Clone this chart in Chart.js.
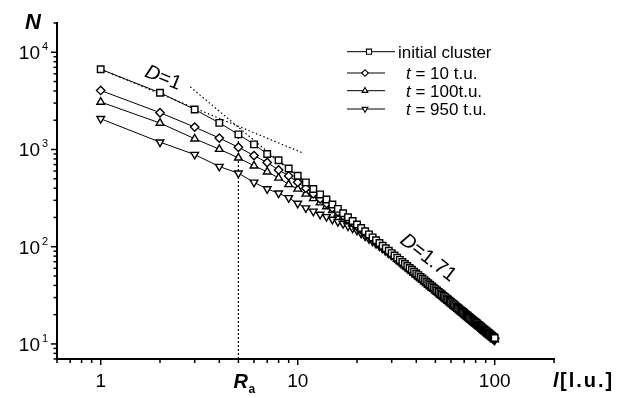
<!DOCTYPE html>
<html>
<head>
<meta charset="utf-8">
<script src="https://cdn.jsdelivr.net/npm/chart.js@4.4.1/dist/chart.umd.min.js"></script>
<style>
  body { margin: 0; background: #fff; }
  canvas { display: block; }
</style>
</head>
<body>
<canvas id="chart" width="633" height="398"></canvas>
<script>
// cluster size l [l.u.]
const lValues = [1, 2, 3, 4, 5, 6, 7, 8, 9, 10, 11, 12, 13, 14, 15, 16, 17, 18, 19, 20,
  21, 22, 23, 24, 25, 26, 27, 28, 29, 30, 31, 32, 33, 34, 35, 36, 37, 38, 39, 40,
  41, 42, 43, 44, 45, 46, 47, 48, 49, 50, 51, 52, 53, 54, 55, 56, 57, 58, 59, 60,
  61, 62, 63, 64, 65, 66, 67, 68, 69, 70, 71, 72, 73, 74, 75, 76, 77, 78, 79, 80,
  81, 82, 83, 84, 85, 86, 87, 88, 89, 90, 91, 92, 93, 94, 95, 96, 97, 98, 99, 100];

// N(l) for each series
const initialCluster = [6680, 3840, 2580, 1880, 1430, 1130, 900, 775, 638, 537, 459, 392, 345, 306, 272, 245, 221, 201, 184, 169,
  155.8, 144.2, 133.9, 124.7, 116.5, 109.1, 102.4, 96.4, 90.9, 85.9, 81.3, 77.1, 73.2, 69.7, 66.4, 63.4, 60.5, 57.9, 55.4, 53.1,
  51.0, 49.0, 47.1, 45.3, 43.6, 42.1, 40.6, 39.2, 37.9, 36.6, 35.4, 34.3, 33.2, 32.2, 31.2, 30.3, 29.4, 28.6, 27.8, 27.0,
  26.3, 25.6, 24.9, 24.2, 23.6, 23.0, 22.4, 21.9, 21.4, 20.9, 20.4, 19.9, 19.5, 19.0, 18.6, 18.2, 17.8, 17.4, 17.0, 16.7,
  16.4, 16.0, 15.7, 15.4, 15.1, 14.8, 14.5, 14.2, 14.0, 13.7, 13.5, 13.2, 13.0, 12.8, 12.5, 12.3, 12.1, 11.9, 11.7, 11.5];
const t10 = [4050, 2390, 1700, 1310, 1056, 865, 735, 615, 535, 460, 400, 350, 311, 278, 250, 228, 208, 191, 176, 162,
  150, 140, 131, 122, 114.8, 107.5, 100.9, 95.0, 89.5, 84.6, 80.1, 75.9, 72.1, 68.7, 65.4, 62.4, 59.6, 57.0, 54.6, 52.3,
  50.2, 48.3, 46.4, 44.6, 42.9, 41.5, 40.0, 38.6, 37.3, 36.1, 34.9, 33.8, 32.7, 31.7, 30.7, 29.8, 29.0, 28.2, 27.4, 26.6,
  25.9, 25.2, 24.5, 23.8, 23.2, 22.7, 22.1, 21.6, 21.1, 20.6, 20.1, 19.6, 19.2, 18.7, 18.3, 17.9, 17.5, 17.1, 16.7, 16.4,
  16.2, 15.8, 15.5, 15.2, 14.9, 14.6, 14.3, 14.0, 13.8, 13.5, 13.3, 13.0, 12.8, 12.6, 12.3, 12.1, 11.9, 11.7, 11.5, 11.3];
const t100 = [3080, 1870, 1290, 1007, 820, 680, 590, 510, 437, 393, 349, 314, 284, 259, 237, 218, 201, 186, 173, 160,
  149, 138.4, 129.2, 120.3, 112.4, 105.3, 98.8, 93.0, 87.7, 82.9, 78.5, 74.4, 70.6, 67.3, 64.1, 61.2, 58.4, 55.9, 53.5, 51.2,
  49.2, 47.3, 45.5, 43.7, 42.1, 40.6, 39.2, 37.8, 36.6, 35.3, 34.2, 33.1, 32.0, 31.1, 30.1, 29.2, 28.4, 27.6, 26.8, 26.1,
  25.4, 24.7, 24.0, 23.4, 22.8, 22.2, 21.6, 21.1, 20.7, 20.2, 19.7, 19.2, 18.8, 18.3, 17.9, 17.6, 17.2, 16.8, 16.4, 16.1,
  15.8, 15.4, 15.2, 14.9, 14.6, 14.3, 14.0, 13.7, 13.5, 13.2, 13.0, 12.7, 12.5, 12.4, 12.1, 11.9, 11.7, 11.5, 11.3, 11.1];
const t950 = [2070, 1190, 887, 668, 570, 459, 393, 355, 318, 279, 250, 231, 215, 203, 191, 181, 172, 163, 155, 147,
  137.1, 128.3, 120.5, 113.5, 107.2, 101.5, 95.7, 90.6, 85.9, 81.6, 77.2, 73.2, 69.5, 66.2, 63.1, 60.2, 57.5, 55.0, 52.6, 50.4,
  48.5, 46.6, 44.7, 43.0, 41.4, 40.0, 38.6, 37.2, 36.0, 34.8, 33.6, 32.6, 31.5, 30.6, 29.6, 28.8, 27.9, 27.2, 26.4, 25.7,
  25.0, 24.3, 23.7, 23.0, 22.4, 21.9, 21.3, 20.8, 20.3, 19.9, 19.4, 18.9, 18.5, 18.1, 17.7, 17.3, 16.9, 16.5, 16.2, 15.9,
  15.6, 15.2, 14.9, 14.6, 14.3, 14.1, 13.8, 13.5, 13.3, 13.0, 12.8, 12.5, 12.4, 12.2, 11.9, 11.7, 11.5, 11.3, 11.1, 10.9];

// guide lines
const slope1X = [1, 10.5];
const slope1Y = [6700, 930];
const slope171X = [2.85, 100];
const slope171Y = [4400, 10.5];
const raX = [5, 5];
const raY = [7, 1430];

// axis ticks
const xMajor = [1, 10, 100];
const xMajorLabels = ['1', '10', '100'];
const yMajor = [10, 100, 1000, 10000];
const yMajorExp = ['1', '2', '3', '4'];
const legendNames = ['initial cluster', '10 t.u.', '100t.u.', '950 t.u.'];

const FONT = '"Liberation Sans", Arial, sans-serif';

const toXY = (xs, ys) => xs.map((x, i) => ({ x: x, y: ys[i] }));

const markerStyles = [
  { pointStyle: 'rect', radius: 4.6, rotation: 0 },
  { pointStyle: 'rectRot', radius: 4.2, rotation: 0 },
  { pointStyle: 'triangle', radius: 4.4, rotation: 0 },
  { pointStyle: 'triangle', radius: 4.4, rotation: 180 }
];

function seriesDataset(values, i) {
  const m = markerStyles[i];
  return {
    data: toXY(lValues, values),
    borderColor: '#000',
    borderWidth: 1,
    pointStyle: m.pointStyle,
    pointRadius: m.radius,
    pointRotation: m.rotation,
    pointBackgroundColor: '#fff',
    pointBorderColor: '#000',
    pointBorderWidth: 1.4,
    tension: 0
  };
}

function guideDataset(xs, ys, dash) {
  return {
    data: toXY(xs, ys),
    borderColor: '#000',
    borderWidth: 1.2,
    borderDash: dash,
    pointRadius: 0,
    tension: 0
  };
}

function minorTicks(min, max) {
  const out = [];
  for (let d = 0.1; d <= max; d *= 10) {
    for (let k = 1; k <= 9; k++) {
      const v = +(k * d).toPrecision(3);
      if (v >= min - 1e-9 && v <= max + 1e-9) out.push(v);
    }
  }
  return out;
}

function drawMarker(ctx, m, x, y, r) {
  ctx.fillStyle = '#fff';
  ctx.strokeStyle = '#000';
  ctx.lineWidth = 1.1;
  Chart.helpers.drawPoint(ctx, { pointStyle: m.pointStyle, radius: r, rotation: m.rotation, borderWidth: 1.1 }, x, y);
}

const decorPlugin = {
  id: 'decor',
  afterDraw(chart) {
    const ctx = chart.ctx;
    const xs = chart.scales.x, ys = chart.scales.y;
    const area = chart.chartArea;
    ctx.save();
    ctx.strokeStyle = '#000';
    ctx.fillStyle = '#000';
    ctx.lineWidth = 1.5;

    // y ticks (outside, left)
    minorTicks(7, 20000).forEach(v => {
      const y = ys.getPixelForValue(v);
      const len = yMajor.includes(v) ? 6 : 3.5;
      ctx.beginPath(); ctx.moveTo(area.left - len, y); ctx.lineTo(area.left, y); ctx.stroke();
    });
    // x ticks (outside, below)
    minorTicks(0.6, 200).forEach(v => {
      const x = xs.getPixelForValue(v);
      const len = xMajor.includes(v) ? 6 : 4;
      ctx.beginPath(); ctx.moveTo(x, area.bottom); ctx.lineTo(x, area.bottom + len); ctx.stroke();
    });

    // y tick labels 10^n
    ctx.textBaseline = 'alphabetic';
    yMajor.forEach((v, i) => {
      const y = ys.getPixelForValue(v);
      ctx.font = '19px ' + FONT;
      ctx.textAlign = 'right';
      ctx.fillText('10', 40, y + 7);
      ctx.font = '11px ' + FONT;
      ctx.textAlign = 'left';
      ctx.fillText(yMajorExp[i], 42, y - 2);
    });

    // x tick labels
    ctx.font = '19px ' + FONT;
    ctx.textAlign = 'center';
    xMajor.forEach((v, i) => {
      ctx.fillText(xMajorLabels[i], xs.getPixelForValue(v), 387);
    });

    // R_a
    const rx = xs.getPixelForValue(5);
    ctx.textAlign = 'left';
    ctx.font = 'italic bold 20px ' + FONT;
    ctx.fillText('R', rx - 5, 388);
    ctx.font = 'bold 12px ' + FONT;
    ctx.fillText('a', rx + 10, 393);

    // axis titles
    ctx.font = 'italic bold 22px ' + FONT;
    ctx.fillText('N', 25, 29);
    ctx.font = 'italic bold 20px ' + FONT;
    ctx.fillText('l', 553, 387);
    ctx.font = 'bold 20px ' + FONT;
    ctx.letterSpacing = '2px';
    ctx.fillText('[l.u.]', 560, 387);
    ctx.letterSpacing = '0px';

    // slope labels
    function slopeLabel(txt, cx, cy, ang) {
      ctx.save();
      ctx.translate(cx, cy);
      ctx.rotate(ang * Math.PI / 180);
      ctx.font = 'italic 20px ' + FONT;
      const wD = ctx.measureText('D').width;
      ctx.font = '20px ' + FONT;
      const wR = ctx.measureText(txt).width;
      const x0 = -(wD + wR) / 2;
      ctx.textAlign = 'left';
      ctx.textBaseline = 'middle';
      ctx.font = 'italic 20px ' + FONT;
      ctx.fillText('D', x0, 0);
      ctx.font = '20px ' + FONT;
      ctx.fillText(txt, x0 + wD, 0);
      ctx.restore();
    }
    slopeLabel('=1', 163, 78, 22);
    slopeLabel('=1.71', 428, 258, 38);

    // legend
    const rows = [51.7, 73, 90.7, 109];
    rows.forEach((y, i) => {
      const lineEnd = i === 0 ? 395 : 385;
      const mx = i === 0 ? 369 : 365;
      ctx.strokeStyle = '#000';
      ctx.lineWidth = 1;
      ctx.beginPath(); ctx.moveTo(347, y); ctx.lineTo(lineEnd, y); ctx.stroke();
      drawMarker(ctx, markerStyles[i], mx, y, i === 0 ? 3.6 : 3.3);
      ctx.fillStyle = '#000';
      ctx.textAlign = 'left';
      ctx.textBaseline = 'alphabetic';
      if (i === 0) {
        ctx.font = '17px ' + FONT;
        ctx.fillText(legendNames[i], 398, y + 6);
      } else {
        ctx.font = 'italic 17px ' + FONT;
        ctx.fillText('t', 406, y + 6);
        const wt = ctx.measureText('t').width;
        ctx.font = '17px ' + FONT;
        ctx.fillText(' = ' + legendNames[i], 406 + wt, y + 6);
      }
    });
    ctx.restore();
  }
};

new Chart(document.getElementById('chart'), {
  type: 'line',
  data: {
    datasets: [
      seriesDataset(initialCluster, 0),
      seriesDataset(t10, 1),
      seriesDataset(t100, 2),
      seriesDataset(t950, 3),
      guideDataset(slope1X, slope1Y, [1.5, 2.5]),
      guideDataset(slope171X, slope171Y, [1.5, 2.5]),
      guideDataset(raX, raY, [2, 2])
    ]
  },
  options: {
    responsive: false,
    animation: false,
    layout: { padding: { left: 57, top: 23, right: 79, bottom: 39 } },
    plugins: { legend: { display: false }, tooltip: { enabled: false } },
    scales: {
      x: {
        type: 'logarithmic',
        min: 0.6,
        max: 200,
        grid: { display: false, drawTicks: false },
        border: { display: true, color: '#000', width: 2 },
        ticks: { display: false }
      },
      y: {
        type: 'logarithmic',
        min: 7,
        max: 20000,
        grid: { display: false, drawTicks: false },
        border: { display: true, color: '#000', width: 2 },
        ticks: { display: false }
      }
    }
  },
  plugins: [decorPlugin]
});
</script>
</body>
</html>
